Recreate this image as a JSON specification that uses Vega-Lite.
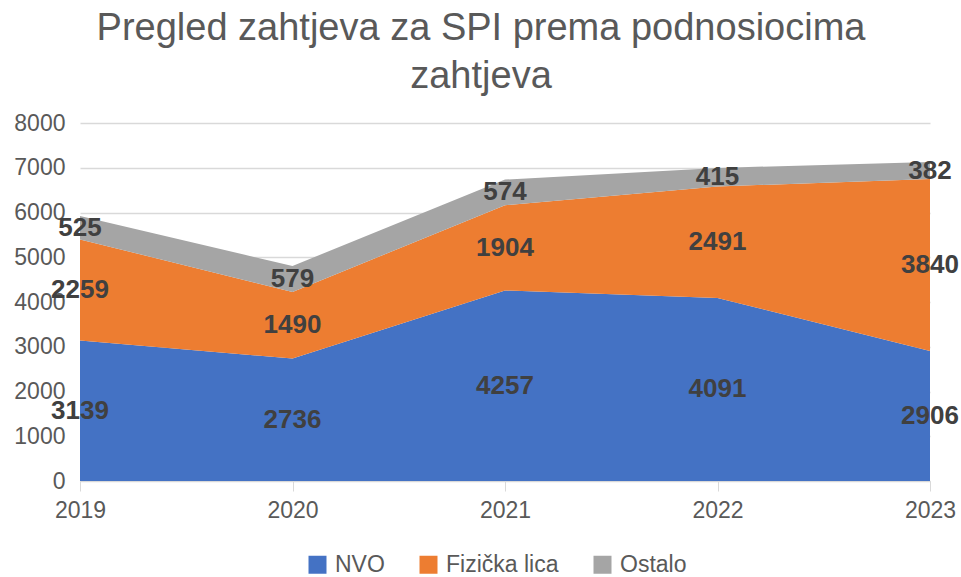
{
  "$schema": "https://vega.github.io/schema/vega-lite/v6.json",
  "width": 850,
  "height": 358,
  "autosize": {"type": "none"},
  "padding": {"left": 80, "top": 123, "right": 31, "bottom": 96},
  "background": "white",
  "title": {
    "text": ["Pregled zahtjeva za SPI prema podnosiocima", "zahtjeva"],
    "font": "Liberation Sans",
    "fontSize": 38,
    "fontWeight": "normal",
    "color": "#595959",
    "lineHeight": 48,
    "anchor": "middle",
    "dx": -24,
    "offset": 16
  },
  "config": {
    "view": {"stroke": null},
    "font": "Liberation Sans"
  },
  "data": {
    "values": [
      {"year": "2019", "series": "NVO", "value": 3139},
      {"year": "2019", "series": "Fizička lica", "value": 2259},
      {"year": "2019", "series": "Ostalo", "value": 525},
      {"year": "2020", "series": "NVO", "value": 2736},
      {"year": "2020", "series": "Fizička lica", "value": 1490},
      {"year": "2020", "series": "Ostalo", "value": 579},
      {"year": "2021", "series": "NVO", "value": 4257},
      {"year": "2021", "series": "Fizička lica", "value": 1904},
      {"year": "2021", "series": "Ostalo", "value": 574},
      {"year": "2022", "series": "NVO", "value": 4091},
      {"year": "2022", "series": "Fizička lica", "value": 2491},
      {"year": "2022", "series": "Ostalo", "value": 415},
      {"year": "2023", "series": "NVO", "value": 2906},
      {"year": "2023", "series": "Fizička lica", "value": 3840},
      {"year": "2023", "series": "Ostalo", "value": 382}
    ]
  },
  "transform": [
    {"stack": "value", "groupby": ["year"], "as": ["y0", "y1"]}
  ],
  "encoding": {
    "x": {
      "field": "year",
      "type": "ordinal",
      "scale": {"type": "point", "padding": 0},
      "axis": {
        "title": null,
        "labelAngle": 0,
        "labelFontSize": 23,
        "labelColor": "#595959",
        "labelPadding": 8,
        "tickSize": 10,
        "tickColor": "#d9d9d9",
        "domainColor": "#d9d9d9",
        "grid": false
      }
    }
  },
  "layer": [
    {
      "mark": {"type": "area", "opacity": 1},
      "encoding": {
        "y": {
          "field": "y1",
          "type": "quantitative",
          "scale": {"domain": [0, 8000], "nice": false},
          "axis": {
            "title": null,
            "format": "d",
            "values": [0, 1000, 2000, 3000, 4000, 5000, 6000, 7000, 8000],
            "labelFontSize": 23,
            "labelColor": "#595959",
            "labelPadding": 15,
            "ticks": false,
            "domain": false,
            "gridColor": "#d9d9d9",
            "gridWidth": 1.5
          }
        },
        "y2": {"field": "y0"},
        "color": {
          "field": "series",
          "type": "nominal",
          "sort": ["NVO", "Fizička lica", "Ostalo"],
          "scale": {
            "domain": ["NVO", "Fizička lica", "Ostalo"],
            "range": ["#4472C4", "#ED7D31", "#A5A5A5"]
          },
          "legend": {
            "title": null,
            "orient": "none",
            "direction": "horizontal",
            "legendX": 226,
            "legendY": 430,
            "symbolType": "square",
            "symbolSize": 324,
            "symbolStrokeWidth": 0,
            "symbolOpacity": 1,
            "labelFontSize": 23,
            "labelColor": "#595959",
            "labelOffset": 6,
            "columnPadding": 32
          }
        }
      }
    },
    {
      "transform": [
        {"fold": ["y0", "y1"], "as": ["edge", "pos"]},
        {"aggregate": [{"op": "mean", "field": "pos", "as": "mid"}], "groupby": ["year", "series", "value"]}
      ],
      "mark": {
        "type": "text",
        "fontSize": 26,
        "fontWeight": "bold",
        "color": "#404040",
        "align": "center",
        "baseline": "middle"
      },
      "encoding": {
        "y": {"field": "mid", "type": "quantitative"},
        "text": {"field": "value", "type": "quantitative"}
      }
    }
  ]
}
